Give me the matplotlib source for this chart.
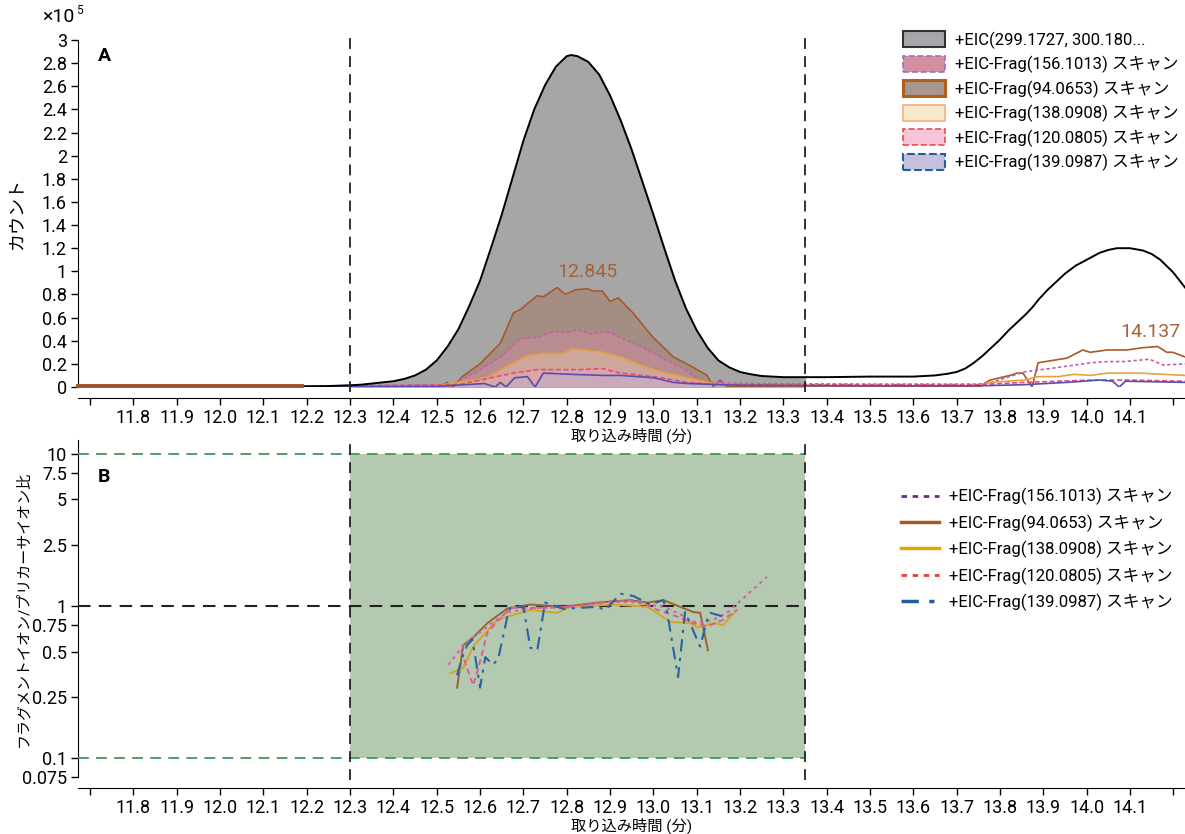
import numpy as np
import matplotlib
matplotlib.use("Agg")
import matplotlib.pyplot as plt
from matplotlib.patches import Patch
from matplotlib.lines import Line2D

plt.rcParams['font.family'] = ['Roboto', 'Noto Sans CJK JP', 'DejaVu Sans']

# ---- data (counts in units of 1e5) ----
eic_x = [12.19, 12.25, 12.3, 12.325, 12.35, 12.375, 12.4, 12.425, 12.45, 12.475, 12.5, 12.525,
         12.55, 12.575, 12.6, 12.625, 12.65, 12.675, 12.7, 12.725, 12.75, 12.775, 12.8, 12.81,
         12.825, 12.85, 12.875, 12.9, 12.925, 12.95, 12.975, 13.0, 13.025, 13.05, 13.075, 13.1,
         13.125, 13.15, 13.175, 13.2, 13.225, 13.25, 13.3, 13.4, 13.5, 13.6, 13.65, 13.68, 13.7,
         13.72, 13.74, 13.76, 13.78, 13.8, 13.82, 13.84, 13.86, 13.875, 13.89, 13.91, 13.93,
         13.95, 13.975, 14.0, 14.03, 14.05, 14.07, 14.1, 14.13, 14.15, 14.17, 14.2, 14.227]
eic_y = [0.005, 0.008, 0.015, 0.02, 0.03, 0.04, 0.05, 0.07, 0.1, 0.15, 0.23, 0.35,
         0.5, 0.7, 0.92, 1.2, 1.49, 1.81, 2.13, 2.40, 2.61, 2.77, 2.86, 2.87,
         2.86, 2.81, 2.70, 2.52, 2.30, 2.05, 1.77, 1.49, 1.20, 0.92, 0.68, 0.49,
         0.34, 0.23, 0.17, 0.13, 0.11, 0.095, 0.085, 0.085, 0.09, 0.09, 0.1, 0.115, 0.13,
         0.16, 0.21, 0.27, 0.34, 0.41, 0.49, 0.56, 0.63, 0.69, 0.76, 0.84, 0.91,
         0.98, 1.05, 1.1, 1.16, 1.185, 1.2, 1.2, 1.18, 1.15, 1.10, 0.99, 0.86]

f94_x = [12.19, 12.45, 12.508, 12.524, 12.538, 12.559, 12.60, 12.647, 12.677, 12.693, 12.732, 12.746,
         12.778, 12.797, 12.82, 12.847, 12.861, 12.882, 12.9, 12.919, 12.953, 12.999, 13.046,
         13.092, 13.124, 13.138, 13.154, 13.17, 13.4, 13.754, 13.777, 13.823, 13.839, 13.853,
         13.874, 13.888, 13.922, 13.955, 13.991, 14.008, 14.047, 14.093, 14.13, 14.164, 14.185,
         14.199, 14.227]
f94_y = [0.003, 0.003, 0.003, 0.04, 0.003, 0.09, 0.2, 0.38, 0.64, 0.67, 0.79, 0.78,
         0.86, 0.8, 0.84, 0.85, 0.83, 0.83, 0.74, 0.77, 0.64, 0.43, 0.26,
         0.17, 0.1, 0.003, 0.06, 0.003, 0.003, 0.005, 0.06, 0.1, 0.12, 0.12,
         0.0, 0.21, 0.23, 0.25, 0.32, 0.3, 0.32, 0.32, 0.34, 0.35, 0.3,
         0.3, 0.26]

f156_x = [12.19, 12.5, 12.54, 12.60, 12.647, 12.693, 12.732, 12.769, 12.801, 12.824, 12.852,
          12.894, 12.933, 12.971, 13.017, 13.073, 13.11, 13.2, 13.5, 13.75, 13.78, 13.856,
          13.935, 14.01, 14.05, 14.087, 14.145, 14.177, 14.227]
f156_y = [0.01, 0.015, 0.03, 0.15, 0.26, 0.42, 0.43, 0.48, 0.47, 0.5, 0.46,
          0.48, 0.41, 0.35, 0.26, 0.15, 0.05, 0.03, 0.025, 0.025, 0.04, 0.13,
          0.17, 0.21, 0.22, 0.22, 0.24, 0.19, 0.2]

f138_x = [12.19, 12.5, 12.616, 12.653, 12.709, 12.746, 12.792, 12.815, 12.838, 12.884, 12.924,
          12.97, 13.017, 13.078, 13.138, 13.2, 13.5, 13.75, 13.777, 13.856, 13.888, 13.935,
          13.971, 14.01, 14.047, 14.123, 14.227]
f138_y = [0.005, 0.01, 0.08, 0.16, 0.27, 0.29, 0.29, 0.33, 0.32, 0.3, 0.26,
          0.19, 0.13, 0.08, 0.03, 0.015, 0.01, 0.012, 0.04, 0.06, 0.09, 0.09,
          0.11, 0.1, 0.12, 0.12, 0.1]

f120_x = [12.19, 12.55, 12.677, 12.732, 12.769, 12.83, 12.882, 12.924, 13.0, 13.078, 13.15,
          13.5, 13.75, 13.856, 14.01, 14.1, 14.227]
f120_y = [0.005, 0.02, 0.12, 0.15, 0.15, 0.15, 0.16, 0.12, 0.09, 0.04, 0.02,
          0.02, 0.02, 0.04, 0.06, 0.06, 0.05]

f139_x = [12.19, 12.5, 12.61, 12.635, 12.647, 12.66, 12.68, 12.709, 12.727, 12.746, 12.808,
          12.885, 12.924, 13.0, 13.046, 13.078, 13.2, 13.5, 13.75, 13.856, 13.955, 14.03,
          14.06, 14.075, 14.09, 14.227]
f139_y = [0.003, 0.005, 0.03, 0.0, 0.04, 0.0, 0.08, 0.09, 0.0, 0.12, 0.11,
          0.1, 0.1, 0.08, 0.04, 0.03, 0.015, 0.01, 0.01, 0.02, 0.04, 0.06,
          0.05, 0.0, 0.05, 0.04]

# ---- ratio data (panel B) ----
r94_x = [12.547, 12.561, 12.584, 12.617, 12.663, 12.716, 12.792, 12.87, 12.946, 12.986, 13.023,
         13.062, 13.092, 13.108, 13.126]
r94_y = [0.29, 0.55, 0.62, 0.77, 0.96, 1.02, 0.985, 1.05, 1.09, 1.05, 1.09,
         0.985, 0.91, 0.9, 0.51]

r138_x = [12.531, 12.561, 12.584, 12.64, 12.716, 12.778, 12.808, 12.907, 12.986, 13.039, 13.085,
          13.101, 13.138, 13.161, 13.193]
r138_y = [0.36, 0.39, 0.54, 0.81, 0.94, 0.9, 0.985, 1.02, 0.985, 0.785, 0.77,
          0.72, 0.77, 0.75, 0.94]

r156_x = [12.527, 12.561, 12.617, 12.663, 12.732, 12.808, 12.884, 12.946, 13.023, 13.055, 13.101,
          13.138, 13.17, 13.262]
r156_y = [0.41, 0.55, 0.73, 0.91, 0.97, 0.985, 1.06, 1.06, 0.985, 0.9, 0.77,
          0.81, 0.9, 1.55]

r120_x = [12.556, 12.584, 12.596, 12.617, 12.67, 12.739, 12.808, 12.893, 12.963, 13.009, 13.055,
          13.092, 13.124, 13.161, 13.193]
r120_y = [0.51, 0.3, 0.39, 0.67, 0.97, 0.97, 0.985, 1.06, 1.09, 0.94, 0.85,
          0.77, 0.73, 0.81, 0.94]

r139_x = [12.547, 12.559, 12.57, 12.582, 12.589, 12.6, 12.612, 12.63, 12.642, 12.663, 12.67,
          12.7, 12.716, 12.732, 12.75, 12.792, 12.87, 12.889, 12.924, 12.954, 12.993, 13.023,
          13.032, 13.057, 13.073, 13.108, 13.124, 13.131, 13.161]
r139_y = [0.35, 0.46, 0.55, 0.6, 0.46, 0.29, 0.46, 0.41, 0.45, 0.85, 0.97,
          0.985, 0.53, 0.51, 1.05, 0.955, 0.985, 0.94, 1.2, 1.16, 1.02, 1.09,
          0.9, 0.34, 0.91, 0.54, 0.81, 0.9, 0.85]

win_lo, win_hi = 12.3, 13.35
xmin, xmax = 11.672, 14.227
xticks = [round(11.7 + 0.1 * i, 1) for i in range(26)]
xlabels = ['' if (t < 11.75 or t > 14.15) else f'{t:.1f}' for t in xticks]
frag_names = ['+EIC-Frag(156.1013) スキャン', '+EIC-Frag(94.0653) スキャン',
              '+EIC-Frag(138.0908) スキャン', '+EIC-Frag(120.0805) スキャン',
              '+EIC-Frag(139.0987) スキャン']

fig = plt.figure(figsize=(11.85, 8.34), dpi=100)
axA = fig.add_axes([78 / 1185, 1 - 387 / 834, 1 - 78 / 1185, 347 / 834])
axB = fig.add_axes([78 / 1185, 1 - 777 / 834, 1 - 78 / 1185, 337 / 834])

for ax in (axA, axB):
    ax.set_facecolor('none')
    ax.spines['top'].set_visible(False)
    ax.spines['right'].set_visible(False)
    ax.spines['bottom'].set_position(('outward', 8))
    ax.set_xlim(xmin, xmax)
    ax.set_xticks(xticks)
    ax.set_xticklabels(xlabels)
    ax.tick_params(axis='both', direction='out', length=5, width=1, labelsize=13, pad=3)
    ax.set_xlabel('取り込み時間 (分)', fontsize=11, labelpad=0)

# ---- panel A ----
def win(xs, ys):
    xs = np.array(xs); ys = np.array(ys)
    m = (xs >= win_lo) & (xs <= win_hi)
    xi = np.concatenate([[win_lo], xs[m], [win_hi]])
    yi = np.concatenate([[np.interp(win_lo, xs, ys)], ys[m], [np.interp(win_hi, xs, ys)]])
    return xi, yi

xw, yw = win(eic_x, eic_y)
axA.fill_between(xw, 0, yw, color='#a6a6a6', zorder=1)
axA.plot(eic_x, eic_y, color='black', lw=1.4, zorder=5)

frags = [
    (f94_x, f94_y, '#a8582a', '-', '#a0522d', 0.28),
    (f156_x, f156_y, '#c85cae', (0, (2, 1.5)), '#e08aa8', 0.35),
    (f138_x, f138_y, '#e8a040', '-', '#f5dcb0', 0.35),
    (f120_x, f120_y, '#ea4a7a', (0, (3, 1.5)), '#f4a6c8', 0.35),
    (f139_x, f139_y, '#5050b0', '-', '#b0acd8', 0.35),
]
for xs, ys, lc, ls, fc, al in frags:
    xw, yw = win(xs, ys)
    axA.fill_between(xw, 0, yw, color=fc, alpha=al, lw=0, zorder=2)
    axA.plot(xs, ys, color=lc, ls=ls, lw=1.2, zorder=4)
axA.plot([xmin, 12.19], [0.01, 0.01], color='#a0522d', lw=2.8, zorder=6, clip_on=False)

axA.set_ylim(0, 3)
yt = [0.2 * i for i in range(16)]
axA.set_yticks(yt)
axA.set_yticklabels([f'{v:g}' for v in np.round(yt, 1)])
axA.set_ylabel('カウント', fontsize=13)
axA.yaxis.set_label_coords(-0.048, 0.5)
for xv in (win_lo, win_hi):
    axA.plot([xv, xv], [-0.04, 3.02], color='#222222', ls=(0, (6, 4)), lw=1.3,
             clip_on=False, zorder=7)
axA.text(12.847, 0.99, '12.845', color='#a8603a', fontsize=14, ha='center', va='center')
axA.text(14.146, 0.475, '14.137', color='#a8603a', fontsize=14, ha='center', va='center')
axA.text(0.018, 0.94, 'A', transform=axA.transAxes, fontsize=14, fontweight='bold')
fig.text(75 / 1185, 1 - 17 / 834, '×10', fontsize=14, va='center', ha='right')
fig.text(76 / 1185, 1 - 11 / 834, '5', fontsize=8.5, va='center', ha='left')

legA = [
    Patch(facecolor='#a6a6aa', edgecolor='#333333', lw=1.5, label='+EIC(299.1727, 300.180...'),
    Patch(facecolor='#d48f9e', edgecolor='#9b6fc4', ls='--', lw=1.2, label=frag_names[0]),
    Patch(facecolor='#a89690', edgecolor='#b0601e', lw=2.2, label=frag_names[1]),
    Patch(facecolor='#f6e8c8', edgecolor='#f4b080', lw=1.2, label=frag_names[2]),
    Patch(facecolor='#f7c4dc', edgecolor='#ef4a4a', ls='--', lw=1.2, label=frag_names[3]),
    Patch(facecolor='#c4c0de', edgecolor='#1f5fa0', ls='--', lw=1.5, label=frag_names[4]),
]
fig.legend(handles=legA, loc='upper left', bbox_to_anchor=(903 / 1185, 1 - 31 / 834),
           frameon=False, fontsize=12, handlelength=2.5, handleheight=1.1,
           labelspacing=0.42, handletextpad=0.6, borderpad=0, borderaxespad=0)

# ---- panel B ----
axB.set_yscale('log')
axB.set_ylim(0.075, 12.3)
bt = [0.075, 0.1, 0.25, 0.5, 0.75, 1, 2.5, 5, 7.5, 10]
axB.set_yticks(bt)
axB.set_yticklabels([f'{v:g}' for v in bt])
axB.yaxis.set_minor_locator(matplotlib.ticker.NullLocator())
axB.set_ylabel('フラグメントイオン/プリカーサイオン比', fontsize=10.8)
axB.yaxis.set_label_coords(-0.043, 0.5)
axB.fill_between([win_lo, win_hi], 0.1, 10, color='#b4cab0', lw=0, zorder=1)
axB.plot([xmin, win_hi], [10, 10], color='#3c9a5c', ls=(0, (6, 4)), lw=1.3, zorder=3)
axB.plot([xmin, win_hi], [0.1, 0.1], color='#3c9a5c', ls=(0, (6, 4)), lw=1.3, zorder=3)
axB.plot([xmin, win_hi], [1, 1], color='#222222', ls=(0, (6, 4)), lw=1.5, zorder=3)
for xv in (win_lo, win_hi):
    axB.plot([xv, xv], [0.072, 12.3], color='#222222', ls=(0, (6, 4)), lw=1.3,
             clip_on=False, zorder=7)

axB.plot(r94_x, r94_y, color='#9c6230', lw=1.4, zorder=4)
axB.plot(r138_x, r138_y, color='#d4a428', lw=1.4, zorder=4)
axB.plot(r156_x, r156_y, color='#d462a2', ls=(0, (1.5, 2)), lw=1.5, zorder=5)
axB.plot(r120_x, r120_y, color='#dc5c98', ls=(0, (3, 2)), lw=1.4, zorder=5)
axB.plot(r139_x, r139_y, color='#2a62a6', ls=(0, (6, 3, 1.5, 3)), lw=1.5, zorder=6)
axB.text(0.018, 0.875, 'B', transform=axB.transAxes, fontsize=14, fontweight='bold')

legB = [
    Line2D([], [], color='#6b2a8a', ls=(0, (2, 2)), lw=2, label=frag_names[0]),
    Line2D([], [], color='#a85a1e', lw=2.5, label=frag_names[1]),
    Line2D([], [], color='#dcaa00', lw=2.5, label=frag_names[2]),
    Line2D([], [], color='#f03a3a', ls=(0, (2, 2)), lw=2, label=frag_names[3]),
    Line2D([], [], color='#1f5fa0', ls=(0, (5, 3, 1.5, 3)), lw=2.5, label=frag_names[4]),
]
fig.legend(handles=legB, loc='upper left', bbox_to_anchor=(901 / 1185, 1 - 488 / 834),
           frameon=False, fontsize=12, handlelength=2.3, labelspacing=0.55,
           handletextpad=0.6, borderpad=0, borderaxespad=0)

fig.savefig('out.png', dpi=100)
